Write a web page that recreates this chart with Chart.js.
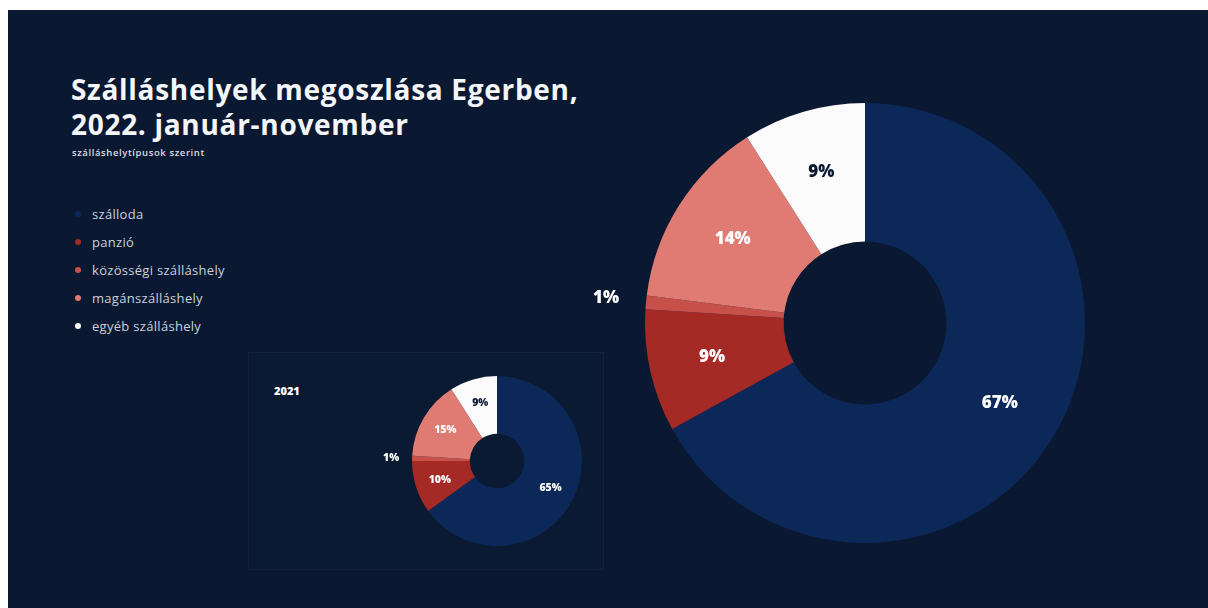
<!DOCTYPE html>
<html lang="hu">
<head>
<meta charset="utf-8">
<script src="https://cdn.jsdelivr.net/npm/chart.js@4/dist/chart.umd.min.js"></script>
<style>
  html, body { margin: 0; padding: 0; background: #ffffff; }
  body { width: 1208px; height: 608px; position: relative; overflow: hidden; font-family: "Open Sans", Lato, sans-serif; }
  #panel { position: absolute; left: 8px; top: 10px; width: 1200px; height: 598px; background: #0a1931; }
  h1 { position: absolute; left: 63px; top: 62px; margin: 0; color: #f4f6fa; font-size: 28px; font-weight: 700; line-height: 35px; letter-spacing: 0.7px; }
  #sub { position: absolute; left: 64px; top: 136px; color: #d8dde6; font-size: 9.5px; font-weight: 600; letter-spacing: 0.6px; }
  #legend { position: absolute; left: 67px; top: 190px; margin: 0; padding: 0; list-style: none; }
  #legend li { height: 28px; line-height: 18px; color: #c9d0dc; font-size: 13px; letter-spacing: 0.3px; display: flex; align-items: center; }
  #legend li span.dot { width: 6px; height: 6px; border-radius: 50%; margin-right: 11px; display: inline-block; }
  #box2021 { position: absolute; left: 240px; top: 342px; width: 354px; height: 216px; border: 1px solid rgba(255,255,255,0.035); background: #0b1a33; }
  #lbl2021 { position: absolute; left: 266px; top: 373px; color: #ffffff; font-size: 11px; font-weight: 800; }
  canvas { position: absolute; }
  #big { left: 585px; top: 43px; }
  #small { left: 377px; top: 341px; }
</style>
</head>
<body>
<div id="panel">
  <h1>Szálláshelyek megoszlása Egerben,<br>2022. január-november</h1>
  <div id="sub">szálláshelytípusok szerint</div>
  <ul id="legend"></ul>
  <div id="box2021"></div>
  <div id="lbl2021">2021</div>
</div>
<canvas id="big" width="560" height="560"></canvas>
<canvas id="small" width="240" height="240"></canvas>
<script>
const categories = ['szálloda', 'panzió', 'közösségi szálláshely', 'magánszálláshely', 'egyéb szálláshely'];
const values2022 = [67, 9, 1, 14, 9];
const values2021 = [65, 10, 1, 15, 9];
const sliceColors = ['#0b2858', '#a52a26', '#c8504a', '#df7b73', '#fbfbfb'];
const labelColors = ['#ffffff', '#ffffff', '#ffffff', '#ffffff', '#0a1931'];

// legend
const legendEl = document.getElementById('legend');
categories.forEach((c, i) => {
  const li = document.createElement('li');
  const dot = document.createElement('span');
  dot.className = 'dot';
  dot.style.background = sliceColors[i];
  li.appendChild(dot);
  li.appendChild(document.createTextNode(c));
  legendEl.appendChild(li);
});

// draws the percent labels, small slices go outside the ring
const pctLabels = {
  id: 'pctLabels',
  afterDatasetsDraw(chart, args, opts) {
    const ctx = chart.ctx;
    const meta = chart.getDatasetMeta(0);
    const data = chart.data.datasets[0].data;
    ctx.save();
    ctx.font = '800 ' + opts.size + 'px "Open Sans", Lato, sans-serif';
    ctx.textAlign = 'center';
    ctx.textBaseline = 'middle';
    meta.data.forEach((arc, i) => {
      const p = arc.getProps(['x', 'y', 'startAngle', 'endAngle', 'innerRadius', 'outerRadius'], true);
      const mid = (p.startAngle + p.endAngle) / 2;
      let r = (p.innerRadius + p.outerRadius) / 2 + opts.shift;
      let col = labelColors[i];
      if (data[i] < 3) {
        r = p.outerRadius + opts.outside;
        col = '#ffffff';
      }
      ctx.fillStyle = col;
      ctx.fillText(data[i] + '%', p.x + Math.cos(mid) * r, p.y + Math.sin(mid) * r);
    });
    ctx.restore();
  }
};

function donut(id, values, pad, cutout, labelOpts) {
  return new Chart(document.getElementById(id), {
    type: 'doughnut',
    data: {
      labels: categories,
      datasets: [{ data: values, backgroundColor: sliceColors, borderWidth: 0 }]
    },
    options: {
      responsive: false,
      animation: false,
      cutout: cutout,
      layout: { padding: pad },
      plugins: { legend: { display: false }, tooltip: { enabled: false }, pctLabels: labelOpts }
    },
    plugins: [pctLabels]
  });
}

donut('big', values2022, 60, '37%', { size: 17, shift: 6, outside: 40 });
donut('small', values2021, 35, '32%', { size: 10.5, shift: 4, outside: 21 });
</script>
</body>
</html>
